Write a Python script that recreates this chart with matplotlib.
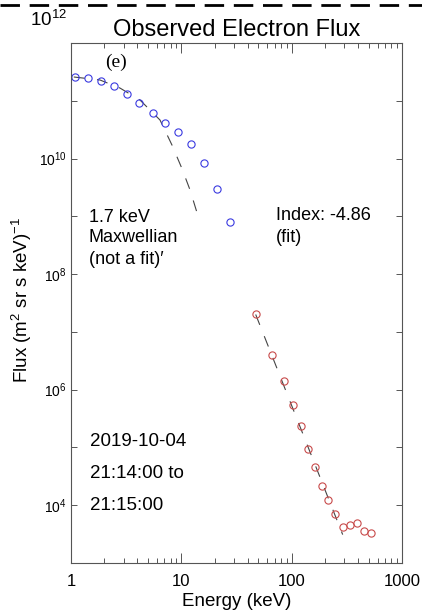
import matplotlib
matplotlib.use('Agg')
import matplotlib.pyplot as plt
from matplotlib.lines import Line2D
from matplotlib.ticker import FixedLocator, NullLocator

# low energy channels (blue)
low_energy = [1.08, 1.44, 1.86, 2.44, 3.20, 4.16, 5.50, 7.16, 9.33, 12.3, 16.0, 21.0, 27.6]
low_flux = [2.6e11, 2.5e11, 2.22e11, 1.80e11, 1.31e11, 9.1e10, 6.07e10, 4.17e10,
            2.91e10, 1.78e10, 8.45e9, 2.96e9, 7.9e8]

# high energy channels (red)
high_energy = [47.2, 65.9, 84.7, 103.5, 121.6, 139.7, 161.8, 187.2, 214.8, 248.9,
               290.1, 335.7, 388.2, 452.0, 527.0]
high_flux = [2.0e7, 3.95e6, 1.42e6, 5.4e5, 2.36e5, 9.3e4, 4.5e4, 2.16e4, 1.24e4,
             7.07e3, 4.16e3, 4.63e3, 4.88e3, 3.59e3, 3.27e3]

# 1.7 keV maxwellian curve
maxw_energy = [1.06, 1.83, 2.78, 4.22, 6.41, 8.23, 10.1, 12.0, 13.9]
maxw_flux = [2.58e11, 2.29e11, 1.66e11, 1.03e11, 4.64e10, 1.71e10, 6.8e9, 2.85e9, 1.14e9]

# power law fit, index -4.86
fit_energy = [47.2, 290.0]
fit_flux = [2.0e7, 3.1e3]

x_ticks = [1, 10, 100, 1000]
x_labels = ['1', '10', '100', '1000']
y_exponents = [4, 6, 8, 10]

plt.rcParams['font.family'] = ['Liberation Sans', 'DejaVu Sans']
plt.rcParams['mathtext.fontset'] = 'custom'
plt.rcParams['mathtext.rm'] = 'Liberation Sans'
plt.rcParams['mathtext.it'] = 'Liberation Sans:italic'

W, H = 422, 613
fig = plt.figure(figsize=(W / 100, H / 100), dpi=100)
ax = fig.add_axes([71 / W, 1 - 563 / H, 331 / W, 520 / H])

axis_grey = '#555555'

ax.plot(maxw_energy, maxw_flux, color='#444444', lw=0.8, dashes=(10, 11))
ax.plot(fit_energy, fit_flux, color='#444444', lw=0.8, dashes=(10, 11))
ax.plot(low_energy, low_flux, 'o', mfc='none', mec='#3a3ae0', ms=5.2, mew=0.8)
ax.plot(high_energy, high_flux, 'o', mfc='none', mec='#c84a4a', ms=5.2, mew=0.8)

ax.set_xscale('log')
ax.set_yscale('log')
ax.set_xlim(1, 1000)
ax.set_ylim(1e3, 1e12)

ax.set_xticks(x_ticks)
ax.set_xticklabels(x_labels, fontsize=12)
ax.xaxis.set_minor_locator(FixedLocator([m * 10 ** d for d in range(3) for m in range(2, 10)]))
ax.xaxis.set_minor_formatter(plt.NullFormatter())

ax.yaxis.set_major_locator(FixedLocator([10.0 ** e for e in range(3, 13)]))
ax.set_yticklabels(['$\\mathregular{10^{%d}}$' % e if e in y_exponents else ''
                    for e in range(3, 13)], fontsize=10)
ax.yaxis.set_minor_locator(NullLocator())

ax.tick_params(axis='x', which='major', direction='in', length=7.2, width=0.7,
               color=axis_grey, top=True, pad=8)
ax.tick_params(axis='x', which='minor', direction='in', length=3.6, width=0.7,
               color=axis_grey, top=True)
ax.tick_params(axis='y', which='major', direction='in', length=4.3, width=0.7,
               color=axis_grey, right=True, pad=3)
for s in ax.spines.values():
    s.set_color(axis_grey)
    s.set_linewidth(0.8)

fig.text(67 / W, 1 - 20 / H, '$\\mathregular{10^{12}}$', fontsize=13.5,
         ha='right', va='center')

ax.set_title('Observed Electron Flux', fontsize=17, pad=5)
ax.set_xlabel('Energy (keV)', fontsize=13.5, labelpad=3)
fig.text(22 / W, 1 - 300 / H, 'Flux (m$^{2}$ sr s keV)$^{-1}$', fontsize=13.5,
         rotation=90, ha='center', va='center')

ax.text(105 / W, 1 - 62 / H, '(e)', transform=fig.transFigure,
        family='Liberation Serif', fontsize=14, va='center')

for txt, y in [('1.7 keV', 217), ('Maxwellian', 238), ('(not a fit)\u2032', 260)]:
    fig.text(89 / W, 1 - y / H, txt, fontsize=13, va='center')
for txt, y in [('Index: -4.86', 216), ('(fit)', 238)]:
    fig.text(276 / W, 1 - y / H, txt, fontsize=13, va='center')
for txt, y in [('2019-10-04', 442), ('21:14:00 to', 473), ('21:15:00', 505)]:
    fig.text(90 / W, 1 - y / H, txt, fontsize=13.5, va='center')

# dashed separator across the top of the figure
fig.add_artist(Line2D([0, 1], [1 - 5 / H, 1 - 5 / H], transform=fig.transFigure,
                      color='black', lw=2, dashes=(7, 3.5)))

fig.savefig('out.png', dpi=100)
